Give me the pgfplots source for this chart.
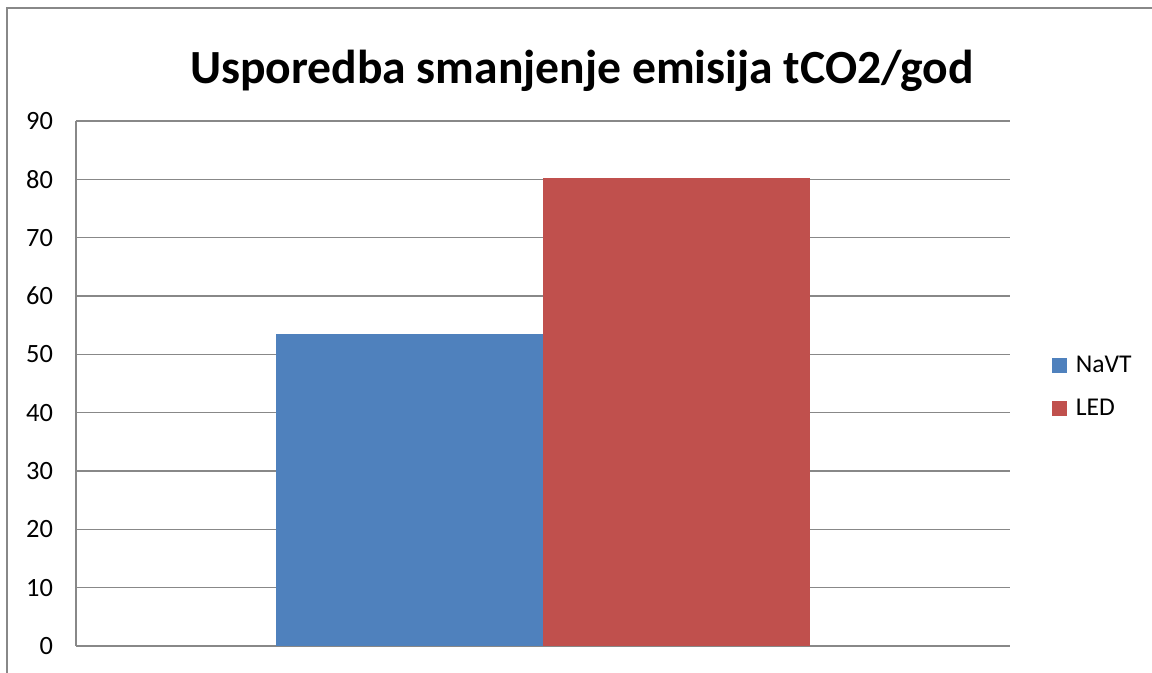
\documentclass[border=0pt]{standalone}
\usepackage{pgfplots}
\pgfplotsset{compat=1.18}
\usepackage{fontspec}
\setmainfont{Carlito}
\definecolor{xblue}{HTML}{4F81BD}
\definecolor{xred}{HTML}{C0504D}
\definecolor{xgrid}{HTML}{888888}
\begin{document}
\begin{tikzpicture}
\useasboundingbox (0,0) rectangle (576pt,336.5pt);
\draw[xgrid, line width=0.8pt] (3.5pt,-2pt) -- (3.5pt,332.5pt) -- (580pt,332.5pt);
\node[font=\fontsize{23.8}{28}\selectfont\bfseries] at (291pt,301pt) {Usporedba smanjenje emisija tCO2/god};
\begin{axis}[
  at={(38pt,13.5pt)}, anchor=south west,
  scale only axis, width=467pt, height=262.5pt,
  xmin=0, xmax=1, ymin=0, ymax=90,
  ytick={0,10,...,90}, xtick=\empty,
  ymajorgrids, grid style={xgrid, line width=0.8pt},
  axis x line*=bottom, axis y line*=left,
  axis line style={xgrid, line width=0.8pt, -},
  ytick style={draw=none},
  yticklabel style={font=\fontsize{13.2}{15}\selectfont, xshift=-8pt},
  /pgf/number format/assume math mode=true,
  legend style={draw=none, fill=none, at={(1.038,0.493)}, anchor=west,
    font=\fontsize{12.8}{15}\selectfont, row sep=8pt, legend cell align=left},
  legend image code/.code={\fill[#1] (0pt,-3.8pt) rectangle (7.6pt,3.8pt); \path (10pt,0pt);},
]
\addplot[ybar, bar width=133.5pt, bar shift=-66.75pt, fill=xblue, draw=none] coordinates {(0.5,53.5)};
\addlegendentry{NaVT}
\addplot[ybar, bar width=133.5pt, bar shift=66.75pt, fill=xred, draw=none] coordinates {(0.5,80.2)};
\addlegendentry{LED}
\end{axis}
\end{tikzpicture}
\end{document}
